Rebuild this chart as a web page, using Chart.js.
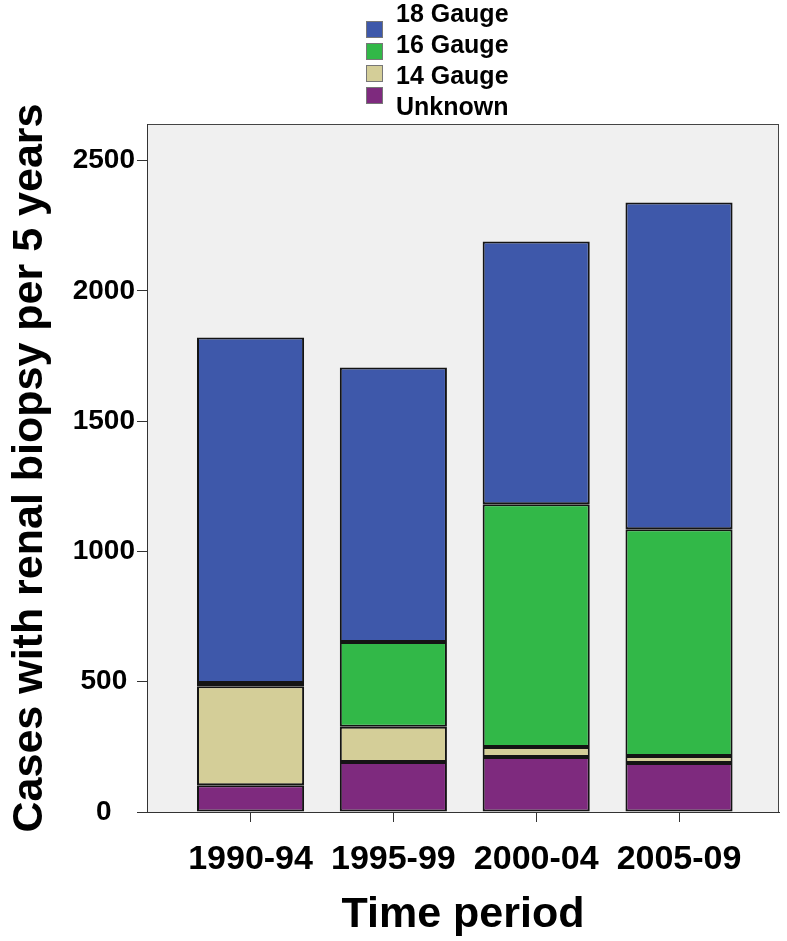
<!DOCTYPE html>
<html>
<head>
<meta charset="utf-8">
<script src="https://cdn.jsdelivr.net/npm/chart.js@4/dist/chart.umd.min.js"></script>
<style>
  body { margin: 0; background: #fff; }
  #wrap { width: 787px; height: 941px; position: relative; }
</style>
</head>
<body>
<div id="wrap"><canvas id="biopsyChart"></canvas></div>
<script>
// data (cases per 5-year period)
let periods = ["1990-94", "1995-99", "2000-04", "2005-09"];
let unknown = [103, 192, 211, 188];
let gauge14 = [380, 135, 38, 27];
let gauge16 = [12, 325, 932, 870];
let gauge18 = [1326, 1054, 1008, 1254];
let yTicks = [0, 500, 1000, 1500, 2000, 2500];

let FONT = "'Liberation Sans', Arial, sans-serif";

function toPoints(arr) {
    return arr.map((v, i) => ({ x: i, y: v }));
}

// grey panel with a frame, like the SPSS output
const plotBox = {
    id: "plotBox",
    beforeDraw(chart) {
        let ctx = chart.ctx;
        let a = chart.chartArea;
        ctx.save();
        ctx.fillStyle = "#f0f0f0";
        ctx.fillRect(a.left, a.top, a.right - a.left, a.bottom - a.top);
        ctx.strokeStyle = "#444";
        ctx.lineWidth = 1;
        ctx.strokeRect(a.left + 0.5, a.top + 0.5, a.right - a.left - 1, a.bottom - a.top);
        ctx.restore();
    }
};

// stacked legend at the top, 18 Gauge first
const stackLegend = {
    id: "stackLegend",
    afterDraw(chart) {
        let ctx = chart.ctx;
        let sets = chart.data.datasets.slice().reverse();
        ctx.save();
        ctx.font = "bold 25px " + FONT;
        ctx.textBaseline = "middle";
        ctx.textAlign = "left";
        sets.forEach((ds, i) => {
            let sy = 21 + i * 22;
            ctx.fillStyle = ds.backgroundColor;
            ctx.fillRect(366, sy, 17, 17);
            ctx.strokeStyle = "#777";
            ctx.lineWidth = 1;
            ctx.strokeRect(366.5, sy + 0.5, 16, 16);
            ctx.fillStyle = "#000";
            ctx.fillText(ds.label, 396, 15.5 + i * 31);
        });
        ctx.restore();
    }
};

let ctx = document.getElementById("biopsyChart");

new Chart(ctx, {
    type: "bar",
    data: {
        datasets: [
            { label: "Unknown", data: toPoints(unknown), backgroundColor: "#7e2a7e" },
            { label: "14 Gauge", data: toPoints(gauge14), backgroundColor: "#d4ce98" },
            { label: "16 Gauge", data: toPoints(gauge16), backgroundColor: "#32b848" },
            { label: "18 Gauge", data: toPoints(gauge18), backgroundColor: "#3e58aa" }
        ]
    },
    options: {
        responsive: true,
        maintainAspectRatio: false,
        animation: false,
        layout: { padding: { top: 124, right: 8, left: 0, bottom: 0 } },
        datasets: {
            bar: {
                borderColor: "#141414",
                borderWidth: 2,
                borderSkipped: false,
                barPercentage: 0.75,
                categoryPercentage: 1
            }
        },
        plugins: {
            legend: { display: false },
            tooltip: { enabled: false }
        },
        scales: {
            x: {
                type: "linear",
                stacked: true,
                offset: false,
                min: -0.725,
                max: 3.7,
                afterBuildTicks: (scale) => {
                    scale.ticks = periods.map((p, i) => ({ value: i }));
                },
                afterFit: (scale) => { scale.height = 129; },
                ticks: {
                    color: "#000",
                    font: { family: FONT, size: 34, weight: "bold" },
                    padding: 17,
                    maxRotation: 0,
                    autoSkip: false,
                    callback: (v) => periods[v]
                },
                grid: {
                    offset: false,
                    drawOnChartArea: false,
                    drawTicks: true,
                    tickLength: 10,
                    tickColor: "#333"
                },
                border: { display: true, color: "#333", width: 1 },
                title: {
                    display: true,
                    text: "Time period",
                    color: "#000",
                    font: { family: FONT, size: 43, weight: "bold" },
                    padding: { top: 0, bottom: 0 }
                }
            },
            y: {
                stacked: true,
                min: 0,
                max: 2640,
                afterBuildTicks: (scale) => {
                    scale.ticks = yTicks.map(v => ({ value: v }));
                },
                afterFit: (scale) => { scale.width = 147; },
                ticks: {
                    color: "#000",
                    font: { family: FONT, size: 28, weight: "bold" },
                    padding: 2,
                    crossAlign: "center",
                    callback: (v) => String(v)
                },
                grid: {
                    drawOnChartArea: false,
                    drawTicks: true,
                    tickLength: 10,
                    tickColor: "#333"
                },
                border: { display: true, color: "#333", width: 1 },
                title: {
                    display: true,
                    text: "Cases with renal biopsy per 5 years",
                    color: "#000",
                    font: { family: FONT, size: 43, weight: "bold" },
                    padding: { top: 4, bottom: 0 }
                }
            }
        }
    },
    plugins: [plotBox, stackLegend]
});
</script>
</body>
</html>
